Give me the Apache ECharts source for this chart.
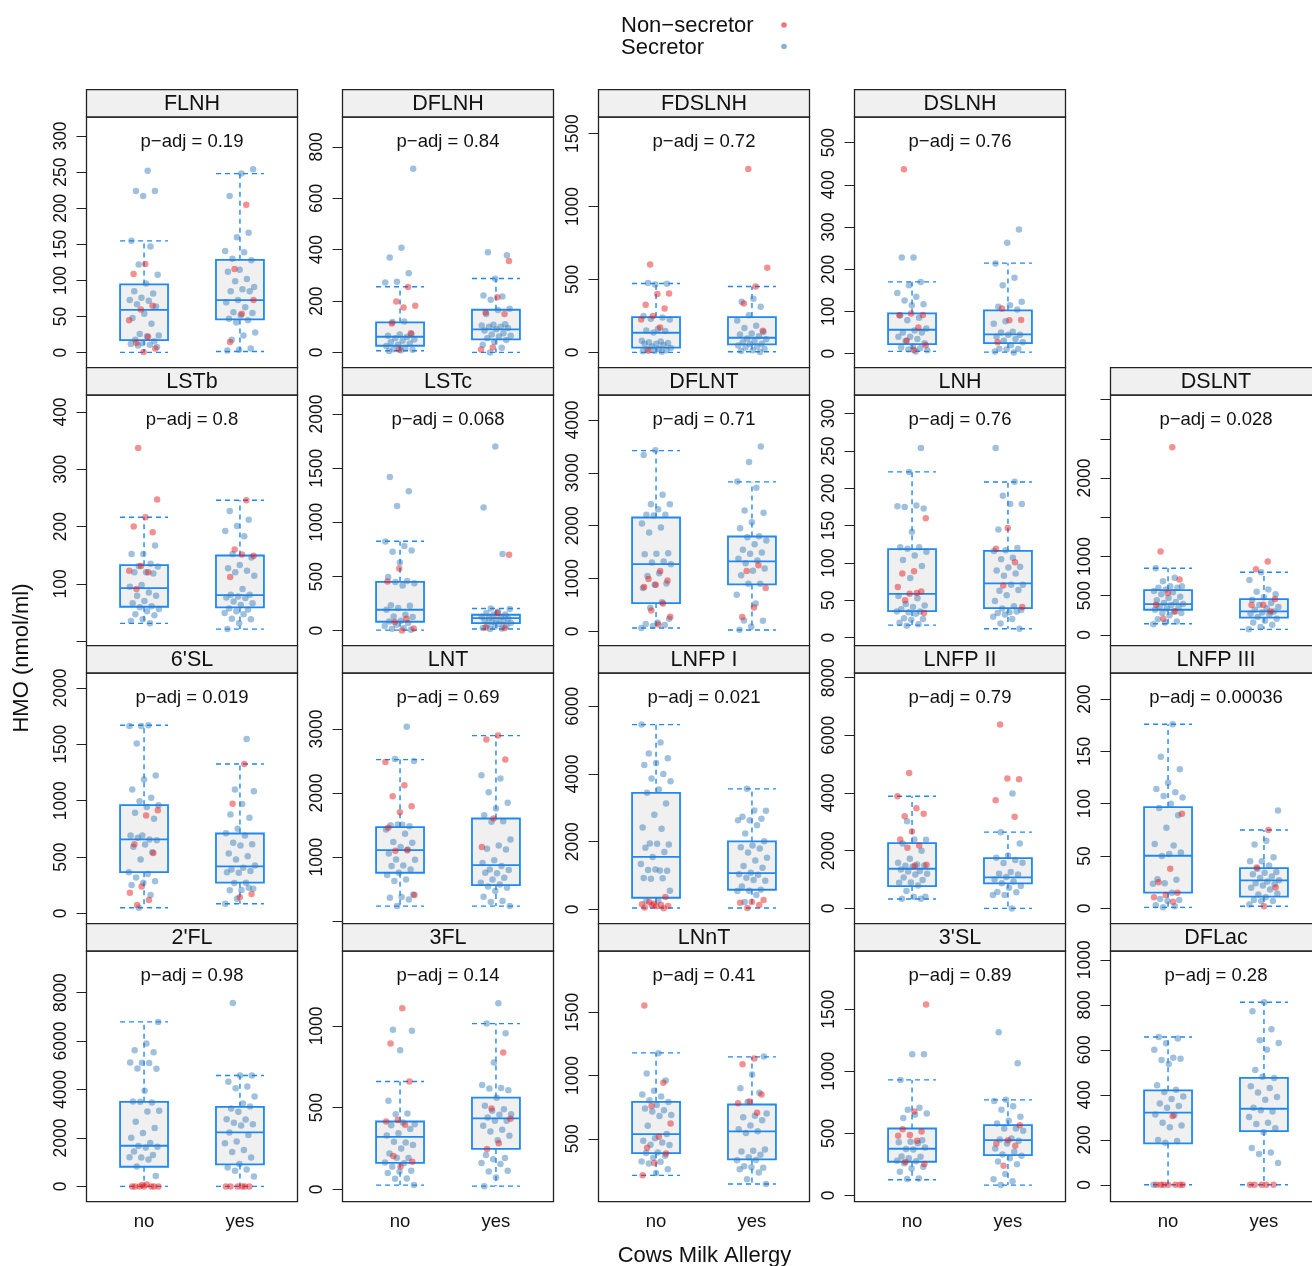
<!DOCTYPE html>
<html>
<head>
<meta charset="utf-8">
<script src="https://cdn.jsdelivr.net/npm/echarts@6.0.0/dist/echarts.min.js"></script>
<style>
  html, body { margin: 0; padding: 0; background: #fff; }
  #chart { width: 1312px; height: 1266px; }
</style>
</head>
<body>
<div id="chart"></div>
<script>
// ---- data ----
// box = [lower whisker, Q1, median, Q3, upper whisker], first "no" then "yes"
const groups = ['no', 'yes'];

const FLNH_box = [[0.5, 17.5, 59.4, 94.5, 154.8], [1.8, 46.1, 72.8, 128.6, 247.9]];
const FLNH_noSec = [252, 224, 224, 217, 155, 147, 122, 108, 96, 85, 82, 76, 73, 72, 67, 64, 54, 48, 40, 26, 24, 23, 18, 16, 13, 12, 11, 10, 8];
const FLNH_noNon = [123, 109, 65, 60, 45, 22, 14, 6, 1];
const FLNH_yesSec = [254, 248, 217, 166, 160, 141, 139, 130, 128, 115, 112, 102, 99, 91, 88, 85, 85, 73, 70, 63, 56, 55, 52, 47, 45, 42, 28, 24, 18, 6, 4, 3];
const FLNH_yesNon = [205, 116, 73, 54, 15];

const DFLNH_box = [[6.5, 25.9, 60.9, 116.7, 255.4], [0, 50.6, 89.5, 166, 287.8]];
const DFLNH_noSec = [715, 408, 370, 308, 275, 272, 120, 118, 72, 70, 65, 60, 55, 50, 45, 40, 35, 30, 25, 15, 12, 10, 8, 5];
const DFLNH_noNon = [255, 198, 182, 175, 113, 75, 11];
const DFLNH_yesSec = [390, 378, 287, 222, 218, 205, 170, 165, 150, 110, 108, 105, 100, 100, 95, 90, 85, 75, 70, 65, 62, 55, 48, 40, 30, 18, 0];
const DFLNH_yesNon = [356, 215, 155, 150, 19, 11];

const FDSLNH_box = [[0, 32, 134.7, 242, 472.6], [4.6, 54.8, 100.5, 242, 452]];
const FDSLNH_noSec = [475, 470, 465, 249, 240, 230, 225, 162, 150, 146, 137, 80, 75, 70, 65, 60, 60, 50, 40, 30, 25, 20, 15, 10, 8, 5];
const FDSLNH_noNon = [603, 404, 400, 326, 301, 249, 226, 171, 11];
const FDSLNH_yesSec = [367, 347, 313, 255, 219, 183, 167, 140, 130, 123, 110, 96, 90, 78, 69, 60, 57, 48, 41, 34, 23, 15, 10, 2];
const FDSLNH_yesNon = [1258, 580, 452, 336, 148];

const DSLNH_box = [[5.5, 22.9, 56.8, 95.4, 170.3], [3.9, 25.2, 45.7, 102.5, 214.5]];
const DSLNH_noSec = [228, 228, 170, 162, 144, 135, 126, 117, 115, 91, 85, 79, 60, 55, 50, 50, 40, 40, 35, 30, 25, 17, 15, 13, 10, 8, 5];
const DSLNH_noNon = [437, 92, 95, 91, 62, 31, 20, 9];
const DSLNH_yesSec = [294, 263, 214, 180, 162, 123, 115, 111, 105, 77, 71, 52, 50, 45, 45, 40, 35, 31, 27, 20, 12, 11, 10, 5, 3];
const DSLNH_yesNon = [107, 80, 79, 27];

const LSTb_box = [[30.8, 59.9, 92.4, 132.6, 216.3], [20.9, 58.7, 80.2, 149.4, 245.9]];
const LSTb_noSec = [167, 152, 152, 135, 131, 130, 120, 120, 118, 98, 95, 85, 79, 79, 70, 66, 61, 59, 56, 52, 47, 45, 38, 35, 31];
const LSTb_noNon = [337, 247, 216, 200, 190, 131, 123, 120, 91];
const LSTb_yesSec = [227, 212, 201, 192, 183, 152, 146, 133, 127, 123, 120, 114, 91, 81, 81, 78, 76, 75, 69, 66, 63, 57, 55, 52, 49, 47, 39, 38, 31, 21];
const LSTb_yesNon = [246, 160, 149, 151, 112];

const LSTc_box = [[6, 83, 193.5, 451.6, 826], [15.4, 70.7, 116.7, 147.5, 205.8]];
const LSTc_noSec = [1419, 1287, 1152, 823, 783, 728, 740, 630, 495, 460, 450, 439, 418, 236, 230, 209, 194, 147, 132, 126, 92, 86, 71, 55, 43, 25, 18, 9];
const LSTc_noNon = [575, 455, 111, 80, 20, 3];
const LSTc_yesSec = [1699, 1137, 707, 206, 200, 175, 163, 150, 148, 130, 126, 117, 110, 98, 92, 83, 80, 71, 65, 55, 43, 37, 25, 20, 15];
const LSTc_yesNon = [700, 163, 31, 25];

const DFLNT_box = [[63, 535, 1272, 2154, 3420], [25, 888, 1323, 1795, 2828]];
const DFLNT_noSec = [3427, 3338, 2583, 2406, 2406, 2312, 2205, 2205, 2190, 2041, 1965, 1871, 1480, 1468, 1460, 1323, 1304, 1272, 1102, 1046, 907, 880, 819, 550, 447, 239, 170, 139, 120, 100, 63];
const DFLNT_noNon = [1140, 989, 964, 880, 838, 529, 397, 277, 132];
const DFLNT_yesSec = [3496, 3206, 2835, 2715, 2287, 2242, 2066, 1953, 1802, 1783, 1720, 1650, 1543, 1490, 1468, 1373, 1340, 1290, 1190, 1146, 1064, 900, 900, 693, 529, 208, 202, 94, 31];
const DFLNT_yesNon = [1253, 1140, 819, 454, 271];

const LNH_box = [[16.9, 35.7, 58.8, 118.6, 222], [12, 39.7, 72.7, 116.4, 208.6]];
const LNH_noSec = [254, 222, 176, 177, 175, 173, 142, 121, 121, 119, 115, 110, 104, 96, 80, 56, 53, 45, 43, 41, 38, 35, 34, 35, 32, 26, 25, 24, 20, 18, 16];
const LNH_noNon = [160, 89, 86, 62, 59, 68, 60, 50, 33];
const LNH_yesSec = [254, 209, 190, 179, 179, 145, 120, 117, 116, 107, 105, 95, 94, 90, 86, 83, 71, 71, 63, 64, 57, 49, 42, 39, 37, 34, 33, 35, 31, 28, 25, 19, 12];
const LNH_yesNon = [147, 119, 101, 70, 41];

const DSLNT_box = [[143, 321, 393, 571, 850], [71, 221, 300, 457, 800]];
const DSLNT_noSec = [850, 729, 686, 620, 620, 600, 600, 579, 560, 543, 520, 486, 470, 443, 420, 407, 393, 380, 357, 350, 336, 320, 300, 280, 280, 250, 200, 171, 157, 136];
const DSLNT_noNon = [2393, 1064, 707, 536, 386, 300, 207];
const DSLNT_yesSec = [800, 700, 580, 550, 520, 479, 450, 407, 380, 357, 340, 321, 300, 286, 270, 264, 229, 207, 180, 157, 129, 100, 71];
const DSLNT_yesNon = [936, 836, 457, 386, 380, 300];

const SL6_box = [[50, 366, 656, 960, 1669], [86, 272, 416.5, 709, 1326]];
const SL6_noSec = [1663, 1663, 1669, 1507, 1223, 1187, 1099, 1025, 995, 960, 945, 892, 839, 691, 691, 656, 670, 650, 611, 591, 543, 478, 366, 350, 319, 284, 272, 251, 162, 50];
const SL6_noNon = [916, 868, 614, 535, 239, 183, 118, 74];
const SL6_yesSec = [1548, 1099, 1084, 970, 877, 848, 750, 710, 691, 626, 614, 603, 532, 508, 478, 425, 405, 390, 375, 360, 366, 272, 270, 219, 207, 205, 227, 130, 86];
const SL6_yesNon = [1326, 972, 171, 142];

const LNT_box = [[236, 756, 1109, 1467.5, 2522], [236, 564, 875, 1602.6, 2896]];
const LNT_noSec = [3036, 2532, 2500, 1504, 1499, 1480, 1510, 1431, 1364, 1234, 1223, 1156, 1057, 1119, 964, 960, 870, 860, 808, 756, 720, 652, 626, 418, 376, 366, 340, 236];
const LNT_noNon = [2486, 2122, 1951, 1795, 1701, 1457, 1109, 1100, 408];
const LNT_yesSec = [2278, 2226, 2013, 1847, 1758, 1655, 1561, 1550, 1275, 1182, 1130, 1120, 953, 910, 860, 808, 798, 750, 756, 678, 650, 600, 574, 540, 522, 470, 382, 314, 298, 236];
const LNT_yesNon = [2896, 2834, 2522, 1603, 1156];

const LNFP1_box = [[39, 344, 1554, 3443, 5459], [39, 580, 1072, 2007, 3561]];
const LNFP1_noSec = [5459, 4928, 4603, 4466, 4328, 4269, 4003, 3866, 3787, 3541, 3443, 3128, 2793, 2420, 2380, 1948, 1918, 1938, 1820, 1692, 1544, 1338, 1151, 1160, 1140, 1180, 925, 920, 905, 551, 266, 246];
const LNFP1_noNon = [364, 167, 148, 138, 216, 98, 89, 59, 30, 120];
const LNFP1_yesSec = [3561, 2911, 2921, 2734, 2675, 2636, 2630, 2488, 2242, 2016, 1888, 1839, 1800, 1682, 1524, 1446, 1279, 1230, 1082, 1040, 1023, 934, 846, 870, 679, 580, 551, 540, 423, 216];
const LNFP1_yesNon = [275, 216, 197, 128, 39];

const LNFP2_box = [[323, 773, 1374, 2263, 3890], [0, 866, 1074, 1743, 2644]];
const LNFP2_noSec = [3024, 2378, 2390, 2251, 2000, 1720, 1582, 1524, 1480, 1489, 1443, 1350, 1300, 1280, 1200, 1177, 1074, 981, 900, 889, 796, 600, 404, 400, 335, 330];
const LNFP2_noNon = [4698, 3890, 3475, 3198, 3278, 2667, 2390, 2182, 2100, 1512, 1480];
const LNFP2_yesSec = [3983, 2644, 2251, 1835, 1755, 1674, 1570, 1582, 1258, 1200, 1177, 1085, 1000, 935, 870, 773, 716, 566, 560, 462, 460, 0];
const LNFP2_yesNon = [6372, 4479, 4502, 3752, 3175];

const LNFP3_box = [[1, 15, 50.3, 96.8, 176], [2.1, 11.2, 26.7, 38.5, 74.9]];
const LNFP3_noSec = [176, 145, 133, 120, 114, 111, 107.5, 106, 100, 96, 89, 77, 61.5, 60, 50, 53.5, 52, 27.8, 27.3, 24, 23.5, 15, 9, 8, 7, 3, 2, 1];
const LNFP3_noNon = [90.4, 38, 25, 15, 12.8, 10.7, 6.4];
const LNFP3_yesSec = [93.6, 64.7, 61, 49, 45, 45, 41, 38, 34.8, 34, 32.6, 30.5, 29, 27, 25.7, 24, 23, 22, 19.8, 18, 13.4, 14, 10.7, 8, 7, 7, 3.7];
const LNFP3_yesNon = [74.9, 39, 20, 2.1];

const FL2_box = [[0, 811, 1677, 3491, 6790], [0, 907, 2227, 3285, 4577]];
const FL2_noSec = [6790, 5897, 5622, 5540, 5100, 5113, 5090, 4866, 4860, 3945, 3500, 3463, 3490, 3120, 3093, 2667, 2406, 2200, 2007, 1787, 1663, 1636, 1608, 1443, 1292, 1196, 1200, 1113, 825, 426];
const FL2_noNon = [0, 0, 0, 0, 0, 80, 0, 0, 60];
const FL2_yesSec = [7574, 4580, 4577, 4316, 4124, 4055, 3711, 3423, 3217, 3299, 3079, 2777, 2763, 2625, 2570, 2516, 2227, 2117, 1856, 1780, 1498, 1416, 1196, 921, 784, 700, 646, 412];
const FL2_yesNon = [0, 0, 0, 0, 0, 0];

const FL3_box = [[26.5, 163, 322, 415.5, 660], [20, 248, 434, 562, 1014]];
const FL3_noSec = [976, 970, 851, 542, 464, 460, 399, 410, 393, 369, 344, 330, 287, 291, 271, 250, 220, 192, 194, 165, 160, 139, 114, 110, 100, 67, 65, 27];
const FL3_noNon = [1108, 892, 660, 424, 415, 395, 204, 169, 140];
const FL3_yesSec = [1139, 1014, 955, 776, 638, 621, 617, 607, 560, 512, 491, 481, 460, 456, 440, 420, 420, 390, 365, 354, 328, 301, 210, 192, 185, 161, 155, 110, 114, 73, 20];
const FL3_yesNon = [837, 495, 432, 283, 248];

const LNnT_box = [[211, 387, 537, 792, 1179], [142, 337, 558, 771, 1147]];
const LNnT_noSec = [1176, 1016, 961, 879, 850, 834, 805, 790, 766, 739, 726, 716, 687, 680, 603, 537, 505, 484, 470, 453, 450, 392, 387, 366, 350, 320, 318, 305, 260, 229];
const LNnT_noNon = [1553, 942, 758, 621, 516, 429, 384, 308, 211];
const LNnT_yesSec = [1150, 1008, 900, 863, 790, 700, 682, 670, 647, 605, 576, 560, 545, 416, 405, 400, 374, 353, 330, 332, 282, 271, 274, 260, 234, 181, 142];
const LNnT_yesNon = [1134, 1089, 850, 795, 780, 705];

const SL3_box = [[126, 271, 376, 539, 931], [83, 325, 445, 566, 770]];
const SL3_noSec = [1138, 1138, 931, 706, 690, 660, 649, 623, 445, 432, 429, 420, 373, 386, 370, 314, 311, 300, 279, 276, 258, 231, 217, 191, 137, 131];
const SL3_noNon = [1538, 676, 534, 515, 486, 480, 440, 270, 252];
const SL3_yesSec = [1315, 1065, 770, 760, 719, 690, 633, 601, 580, 539, 540, 521, 459, 450, 440, 419, 378, 352, 330, 319, 300, 274, 250, 172, 129, 113, 83];
const SL3_yesNon = [566, 445, 419, 400, 239];

const DFLac_box = [[0, 184, 321, 420, 657], [0, 239, 338, 475, 811]];
const DFLac_noSec = [657, 650, 629, 600, 565, 555, 560, 537, 443, 423, 413, 393, 381, 361, 350, 343, 313, 310, 276, 264, 256, 199, 195, 187, 0];
const DFLac_noNon = [306, 0, 0, 0, 0, 0, 0, 0];
const DFLac_yesSec = [811, 771, 691, 642, 630, 600, 510, 475, 480, 438, 430, 410, 390, 378, 343, 326, 331, 301, 276, 270, 251, 234, 164, 144, 137, 97];
const DFLac_yesNon = [0, 0, 0, 0, 0];

// panel names, p values, y limits, y ticks and y tick labels
const names = ['FLNH', 'DFLNH', 'FDSLNH', 'DSLNH', 'LSTb', 'LSTc', 'DFLNT', 'LNH', 'DSLNT',
  "6'SL", 'LNT', 'LNFP I', 'LNFP II', 'LNFP III', "2'FL", '3FL', 'LNnT', "3'SL", 'DFLac'];
const pAdj = ['0.19', '0.84', '0.72', '0.76', '0.8', '0.068', '0.71', '0.76', '0.028',
  '0.019', '0.69', '0.021', '0.79', '0.00036', '0.98', '0.14', '0.41', '0.89', '0.28'];
const yLims = [[-20.7, 326.3], [-59.6, 916.7], [-105, 1614], [-33.1, 560.7],
  [-8.1, 429.7], [-138, 2175], [-271, 4472], [-10.7, 325], [-137.6, 3060],
  [-91.6, 2133], [-39, 3873], [-423, 6984], [-531, 8162], [-14.6, 224.9],
  [-632, 9718], [-75, 1458], [2.6, 1984], [-51, 1970], [-75, 1039]];
const yTicks = [[0, 50, 100, 150, 200, 250, 300], [0, 200, 400, 600, 800], [0, 500, 1000, 1500], [0, 100, 200, 300, 400, 500],
  [0, 100, 200, 300, 400], [0, 500, 1000, 1500, 2000], [0, 1000, 2000, 3000, 4000], [0, 50, 100, 150, 200, 250, 300], [0, 500, 1000, 1500, 2000, 2500, 3000],
  [0, 500, 1000, 1500, 2000], [0, 1000, 2000, 3000], [0, 2000, 4000, 6000], [0, 2000, 4000, 6000, 8000], [0, 50, 100, 150, 200],
  [0, 2000, 4000, 6000, 8000], [0, 500, 1000], [500, 1000, 1500], [0, 500, 1000, 1500], [0, 200, 400, 600, 800, 1000]];
const yLabels = [[0, 50, 100, 150, 200, 250, 300], [0, 200, 400, 600, 800], [0, 500, 1000, 1500], [0, 100, 200, 300, 400, 500],
  [100, 200, 300, 400], [0, 500, 1000, 1500, 2000], [0, 1000, 2000, 3000, 4000], [0, 50, 100, 150, 200, 250, 300], [0, 500, 1000, 2000],
  [0, 500, 1000, 1500, 2000], [1000, 2000, 3000], [0, 2000, 4000, 6000], [0, 2000, 4000, 6000, 8000], [0, 50, 100, 150, 200],
  [0, 2000, 4000, 6000, 8000], [0, 500, 1000], [500, 1000, 1500], [0, 500, 1000, 1500], [0, 200, 400, 600, 800, 1000]];

const boxes = [FLNH_box, DFLNH_box, FDSLNH_box, DSLNH_box, LSTb_box, LSTc_box, DFLNT_box, LNH_box, DSLNT_box,
  SL6_box, LNT_box, LNFP1_box, LNFP2_box, LNFP3_box, FL2_box, FL3_box, LNnT_box, SL3_box, DFLac_box];
const noSec = [FLNH_noSec, DFLNH_noSec, FDSLNH_noSec, DSLNH_noSec, LSTb_noSec, LSTc_noSec, DFLNT_noSec, LNH_noSec, DSLNT_noSec,
  SL6_noSec, LNT_noSec, LNFP1_noSec, LNFP2_noSec, LNFP3_noSec, FL2_noSec, FL3_noSec, LNnT_noSec, SL3_noSec, DFLac_noSec];
const noNon = [FLNH_noNon, DFLNH_noNon, FDSLNH_noNon, DSLNH_noNon, LSTb_noNon, LSTc_noNon, DFLNT_noNon, LNH_noNon, DSLNT_noNon,
  SL6_noNon, LNT_noNon, LNFP1_noNon, LNFP2_noNon, LNFP3_noNon, FL2_noNon, FL3_noNon, LNnT_noNon, SL3_noNon, DFLac_noNon];
const yesSec = [FLNH_yesSec, DFLNH_yesSec, FDSLNH_yesSec, DSLNH_yesSec, LSTb_yesSec, LSTc_yesSec, DFLNT_yesSec, LNH_yesSec, DSLNT_yesSec,
  SL6_yesSec, LNT_yesSec, LNFP1_yesSec, LNFP2_yesSec, LNFP3_yesSec, FL2_yesSec, FL3_yesSec, LNnT_yesSec, SL3_yesSec, DFLac_yesSec];
const yesNon = [FLNH_yesNon, DFLNH_yesNon, FDSLNH_yesNon, DSLNH_yesNon, LSTb_yesNon, LSTc_yesNon, DFLNT_yesNon, LNH_yesNon, DSLNT_yesNon,
  SL6_yesNon, LNT_yesNon, LNFP1_yesNon, LNFP2_yesNon, LNFP3_yesNon, FL2_yesNon, FL3_yesNon, LNnT_yesNon, SL3_yesNon, DFLac_yesNon];

// ---- layout ----
const panelRow = [0, 0, 0, 0, 1, 1, 1, 1, 1, 2, 2, 2, 2, 2, 3, 3, 3, 3, 3];
const panelCol = [0, 1, 2, 3, 0, 1, 2, 3, 4, 0, 1, 2, 3, 4, 0, 1, 2, 3, 4];
const COL0 = 86.5, COLSTEP = 256, PW = 211;
const ROW0 = 89.7, ROWSTEP = 278, STRIPH = 27.3, PH = ROWSTEP - STRIPH;

const BLUE = '#1e88f5';
const SEC = 'rgba(55,126,184,0.6)';
const NON = 'rgba(228,26,28,0.6)';
const FONT = "'Liberation Sans', Arial, Helvetica, sans-serif";

// deterministic horizontal spread of the points within a group
function jitter(i, g) {
  return (((i + 1) * 0.6180339887 + g * 0.31) % 1 - 0.5) * 0.32;
}

const grids = [], xAxes = [], yAxes = [], series = [], graphics = [];

names.forEach(function (name, k) {
  const r = panelRow[k], c = panelCol[k];
  const left = COL0 + COLSTEP * c;
  const stripTop = ROW0 + ROWSTEP * r;
  const top = stripTop + STRIPH;
  const bottomRow = r === 3;

  grids.push({
    left: left, top: top, width: PW, height: PH,
    show: true, borderColor: '#222', borderWidth: 1.3, backgroundColor: 'transparent',
    containLabel: false, outerBoundsMode: 'none'
  });
  xAxes.push({
    type: 'value', gridIndex: k, min: 0.4, max: 2.6,
    axisLine: { show: false }, axisTick: { show: false }, splitLine: { show: false },
    axisLabel: {
      show: bottomRow, customValues: [1, 2], margin: 11,
      fontSize: 18.5, fontFamily: FONT, color: '#111',
      formatter: function (v) { return groups[Math.round(v) - 1]; }
    }
  });
  yAxes.push({
    type: 'value', gridIndex: k, min: yLims[k][0], max: yLims[k][1],
    axisLine: { show: false }, splitLine: { show: false },
    axisTick: { show: true, length: 10, customValues: yTicks[k], lineStyle: { color: '#222', width: 1 } },
    axisLabel: {
      show: true, rotate: 90, margin: 16, customValues: yLabels[k],
      fontSize: 17.5, fontFamily: FONT, color: '#111',
      formatter: function (v) { return String(v); }
    }
  });

  series.push({
    type: 'custom', xAxisIndex: k, yAxisIndex: k, z: 2, silent: true,
    encode: { x: 0, y: [1, 2, 3, 4, 5] },
    data: [[1].concat(boxes[k][0]), [2].concat(boxes[k][1])],
    renderItem: function (params, api) {
      const x = api.value(0);
      const lo = api.coord([x, api.value(1)]);
      const q1 = api.coord([x - 0.25, api.value(2)]);
      const md = api.coord([x, api.value(3)]);
      const q3 = api.coord([x + 0.25, api.value(4)]);
      const hi = api.coord([x, api.value(5)]);
      const xl = q1[0], xr = q3[0], cx = lo[0];
      const dash = { stroke: BLUE, lineWidth: 1.4, lineDash: [5, 4], fill: null };
      return {
        type: 'group',
        children: [
          { type: 'line', shape: { x1: cx, y1: q3[1], x2: cx, y2: hi[1] }, style: dash },
          { type: 'line', shape: { x1: xl, y1: hi[1], x2: xr, y2: hi[1] }, style: dash },
          { type: 'line', shape: { x1: cx, y1: q1[1], x2: cx, y2: lo[1] }, style: dash },
          { type: 'line', shape: { x1: xl, y1: lo[1], x2: xr, y2: lo[1] }, style: dash },
          { type: 'rect', shape: { x: xl, y: q3[1], width: xr - xl, height: q1[1] - q3[1] },
            style: { fill: '#f0f0f0', stroke: BLUE, lineWidth: 1.8 } },
          { type: 'line', shape: { x1: xl, y1: md[1], x2: xr, y2: md[1] },
            style: { stroke: BLUE, lineWidth: 1.8 } }
        ]
      };
    }
  });

  const secData = [], nonData = [];
  [[noSec[k], noNon[k]], [yesSec[k], yesNon[k]]].forEach(function (pair, g) {
    const xc = g + 1;
    let i = 0;
    pair[0].forEach(function (v) { secData.push([xc + jitter(i++, g + k), v]); });
    pair[1].forEach(function (v) { nonData.push([xc + jitter(i++, g + k), v]); });
  });
  series.push({
    type: 'scatter', xAxisIndex: k, yAxisIndex: k, z: 3, symbolSize: 6.5, silent: true,
    itemStyle: { color: SEC }, data: secData
  });
  series.push({
    type: 'scatter', xAxisIndex: k, yAxisIndex: k, z: 4, symbolSize: 6.5, silent: true,
    itemStyle: { color: NON }, data: nonData
  });

  // strip with the panel name
  graphics.push({
    type: 'rect', z: 10,
    shape: { x: left, y: stripTop, width: PW, height: STRIPH },
    style: { fill: '#f0f0f0', stroke: '#222', lineWidth: 1.3 }
  });
  graphics.push({
    type: 'text', z: 11, x: left + PW / 2, y: stripTop + STRIPH / 2 + 1,
    style: { text: name, align: 'center', verticalAlign: 'middle', fontSize: 21.5, fontFamily: FONT, fill: '#111' }
  });
  graphics.push({
    type: 'text', z: 11, x: left + PW / 2, y: top + 25,
    style: { text: 'p\u2212adj = ' + pAdj[k], align: 'center', verticalAlign: 'middle', fontSize: 18.5, fontFamily: FONT, fill: '#111' }
  });
});

// legend and axis titles
graphics.push(
  { type: 'text', x: 621, y: 26, style: { text: 'Non\u2212secretor', align: 'left', verticalAlign: 'middle', fontSize: 22, fontFamily: FONT, fill: '#111' } },
  { type: 'text', x: 621, y: 48, style: { text: 'Secretor', align: 'left', verticalAlign: 'middle', fontSize: 22, fontFamily: FONT, fill: '#111' } },
  { type: 'circle', shape: { cx: 784, cy: 25, r: 2.8 }, style: { fill: NON } },
  { type: 'circle', shape: { cx: 784, cy: 46.5, r: 2.8 }, style: { fill: SEC } },
  { type: 'text', x: 22, y: 658, rotation: Math.PI / 2,
    style: { text: 'HMO (nmol/ml)', align: 'center', verticalAlign: 'middle', fontSize: 22, fontFamily: FONT, fill: '#111' } },
  { type: 'text', x: 704.5, y: 1256,
    style: { text: 'Cows Milk Allergy', align: 'center', verticalAlign: 'middle', fontSize: 22, fontFamily: FONT, fill: '#111' } }
);

const chart = echarts.init(document.getElementById('chart'), null, { renderer: 'canvas' });
chart.setOption({
  animation: false,
  backgroundColor: '#fff',
  grid: grids,
  xAxis: xAxes,
  yAxis: yAxes,
  series: series,
  graphic: graphics
});
</script>
</body>
</html>
